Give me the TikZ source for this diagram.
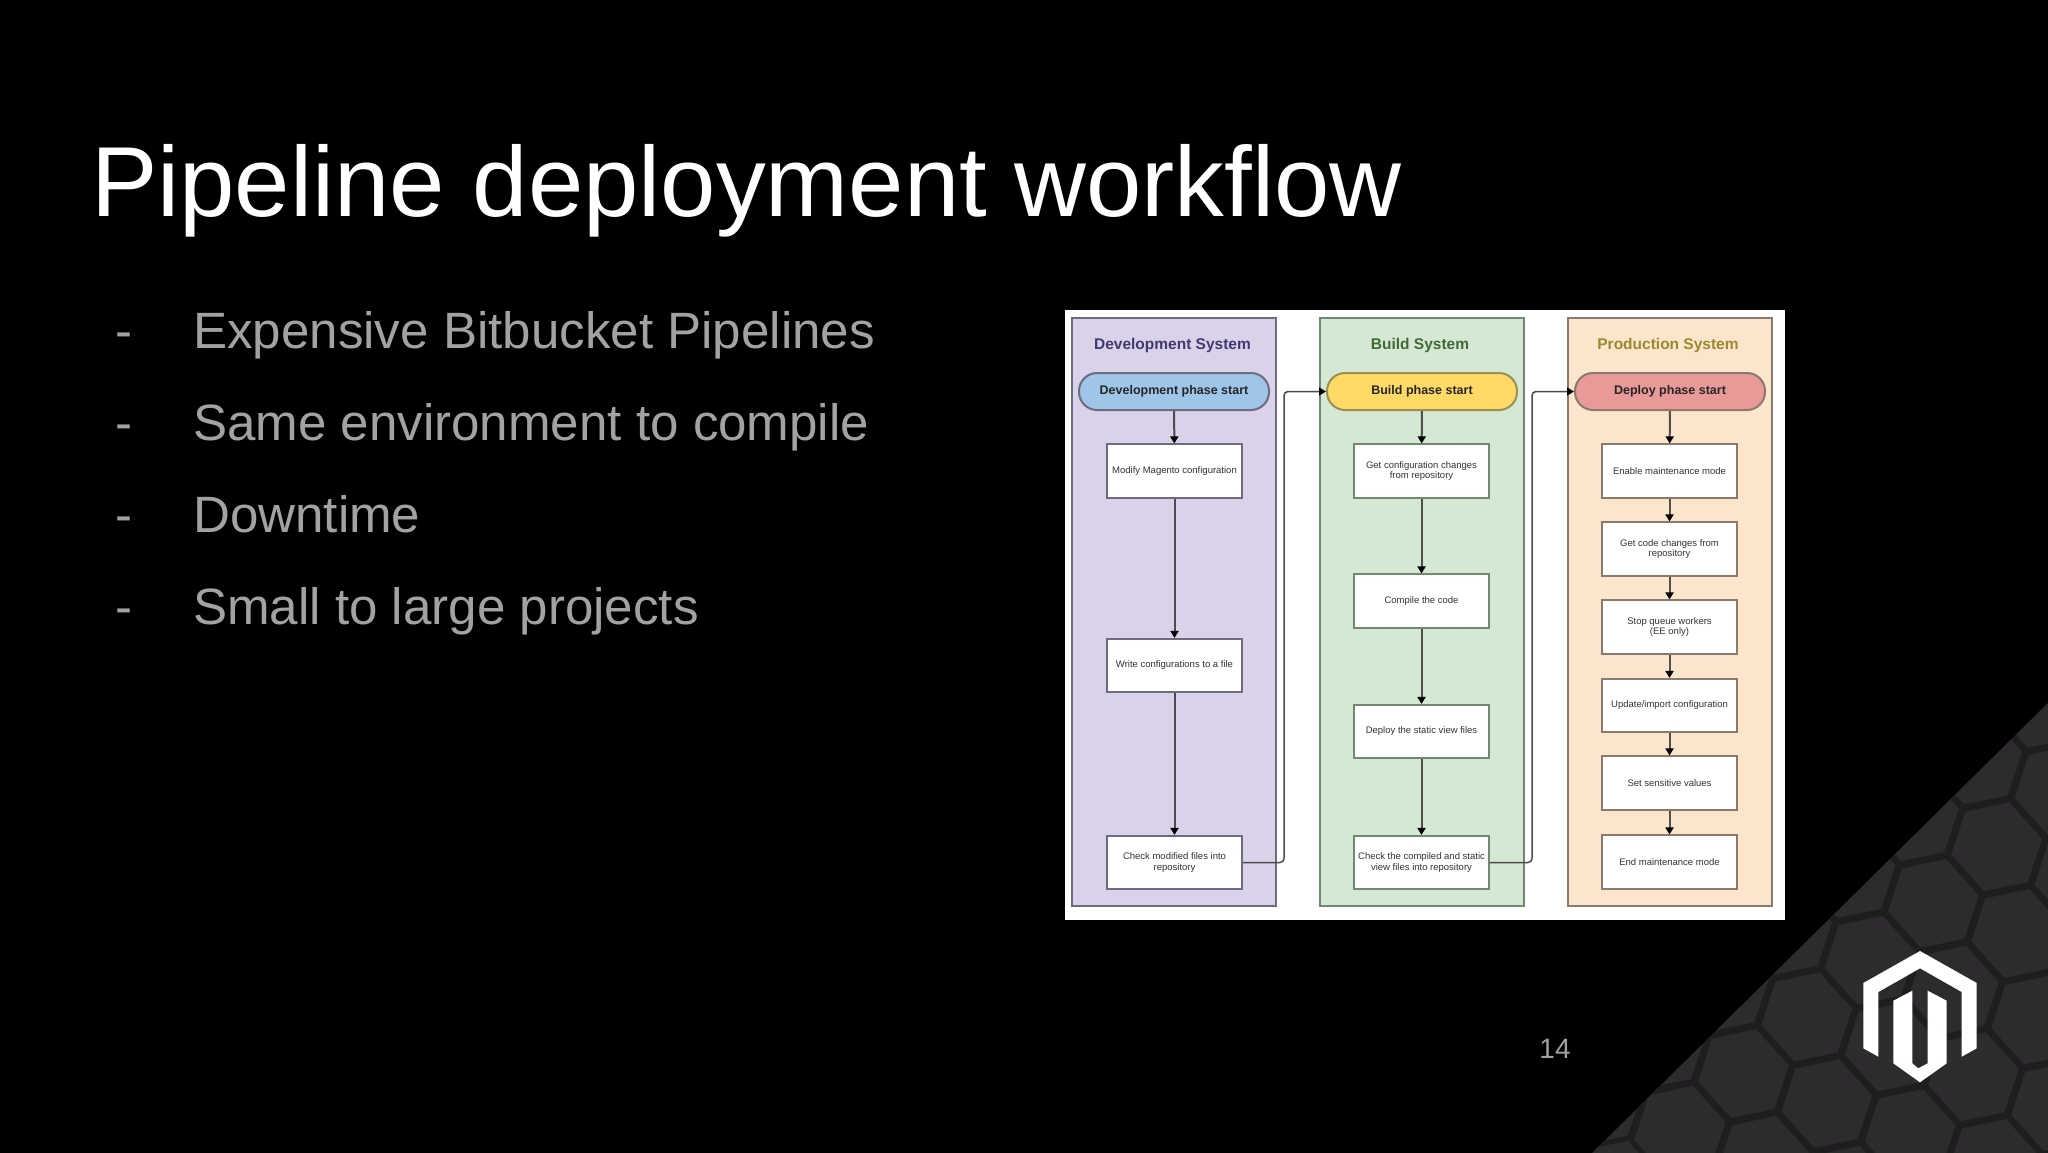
\documentclass[tikz,border=0pt]{standalone}
\usepackage{fontspec}
\setmainfont{Liberation Sans}
\usetikzlibrary{arrows.meta}
\definecolor{bgtri}{HTML}{2D2B2D}
\definecolor{hexline}{HTML}{1F1E1F}
\definecolor{bullet}{HTML}{A2A2A2}
\definecolor{lanedev}{HTML}{D9D2E9}
\definecolor{lanebuild}{HTML}{D5E8D4}
\definecolor{laneprod}{HTML}{FCE5CD}
\definecolor{edgedev}{HTML}{6E6A80}
\definecolor{edgebuild}{HTML}{6F8A6E}
\definecolor{edgeprod}{HTML}{8A7A6C}
\definecolor{edgepillb}{HTML}{9A8F55}
\definecolor{pilldev}{HTML}{9FC5E8}
\definecolor{pillbuild}{HTML}{FFD966}
\definecolor{pillprod}{HTML}{EA9999}
\definecolor{titledev}{HTML}{3F3A70}
\definecolor{titlebuild}{HTML}{3F6A35}
\definecolor{titleprod}{HTML}{9A8A2E}
\begin{document}
\begin{tikzpicture}[x=1pt,y=-1pt,
  titletext/.style={anchor=base west,inner sep=0,text=white,font=\fontsize{99.5}{110}\selectfont},
  bullettext/.style={anchor=base west,inner sep=0,text=bullet,font=\fontsize{51.1}{58}\selectfont},
  pagenum/.style={anchor=base,inner sep=0,text=bullet,font=\fontsize{28}{32}\selectfont},
  lane/.style={draw=#1,line width=2pt,minimum width=204pt,minimum height=588pt,inner sep=0},
  lanetitle/.style={inner sep=0,font=\fontsize{15.5}{18}\selectfont\bfseries,text=#1},
  pill/.style={draw=#1,line width=2pt,rounded corners=18pt,minimum width=190pt,minimum height=37pt,inner sep=0,text=black!85,font=\fontsize{12.5}{15}\selectfont\bfseries},
  stepbox/.style={draw=#1,fill=white,line width=1.6pt,minimum width=135pt,minimum height=53.5pt,inner sep=0,align=center,text=black!80,font=\fontsize{9.5}{10.2}\selectfont},
  flow/.style={draw=#1,line width=2pt,-{Triangle[length=7pt,width=8pt,color=black,fill=black]}},
  handoff/.style={draw=black!70,line width=1.5pt,rounded corners=4pt,-{Triangle[length=7pt,width=8pt,color=black,fill=black]}},
  hexcell/.style={draw=hexline,line width=5pt,line join=round},
  logoshape/.style={fill=white}]
\useasboundingbox (0,0) rectangle (2048,1152);
\fill[black] (-5,-5) rectangle (2053,1157);

% corner triangle with hexagons
\fill[bgtri] (2053,698) -- (2053,1157) -- (1588,1157) -- cycle;
\begin{scope}
\clip (2053,698) -- (2053,1157) -- (1588,1157) -- cycle;
\foreach \i in {-5,...,5}{
  \foreach \j in {-5,...,5}{
    \pgfmathsetmacro{\cx}{1996.7-63.3*\i+83.3*\j}
    \pgfmathsetmacro{\cy}{846.7+56.7*\i+30*\j}
    \draw[hexcell] ([shift={(\cx,\cy)}]49:50) -- ([shift={(\cx,\cy)}]108:50) -- ([shift={(\cx,\cy)}]168:50)
       -- ([shift={(\cx,\cy)}]228:50) -- ([shift={(\cx,\cy)}]288:50) -- ([shift={(\cx,\cy)}]348:50) -- cycle;
  }
}
\end{scope}

% logo
\fill[logoshape] (1920,951) -- (1976.7,983) -- (1976.7,1048.3) -- (1961.7,1056.7) -- (1961.7,992) -- (1920,968.3)
  -- (1878.3,992) -- (1878.3,1056.7) -- (1863.3,1048.3) -- (1863.3,983) -- cycle;
\fill[logoshape] (1893.3,1000.7) -- (1912.3,990.7) -- (1912.3,1063.3) -- (1918.3,1068.3) -- (1927.7,1063.3) -- (1927.7,990.7)
  -- (1946.7,1000.7) -- (1946.7,1063.3) -- (1920,1082.3) -- (1893.3,1063.3) -- cycle;

% slide text
\node[titletext] (title) at (91,216) {Pipeline deployment workflow};
\node[bullettext] (d1) at (115,348) {-};
\node[bullettext] (b1) at (193,348) {Expensive Bitbucket Pipelines};
\node[bullettext] (d2) at (115,440) {-};
\node[bullettext] (b2) at (193,440) {Same environment to compile};
\node[bullettext] (d3) at (115,532) {-};
\node[bullettext] (b3) at (193,532) {Downtime};
\node[bullettext] (d4) at (115,624) {-};
\node[bullettext] (b4) at (193,624) {Small to large projects};
\node[pagenum] (num) at (1555,1058) {14};

% embedded diagram
\fill[white] (1065,310) rectangle (1785,920);
\node[lane=edgedev,fill=lanedev] (ldev) at (1174,612) {};
\node[lane=edgebuild,fill=lanebuild] (lbuild) at (1422,612) {};
\node[lane=edgeprod,fill=laneprod] (lprod) at (1670,612) {};
\node[lanetitle=titledev] (tdev) at (1172.5,345.5) {Development System};
\node[lanetitle=titlebuild] (tbuild) at (1420,345.5) {Build System};
\node[lanetitle=titleprod] (tprod) at (1668,345.5) {Production System};

\node[pill=edgedev,fill=pilldev] (sdev) at (1174,391.5) {Development phase start};
\node[pill=edgepillb,fill=pillbuild] (sbuild) at (1422,391.5) {Build phase start};
\node[pill=edgeprod,fill=pillprod] (sprod) at (1670,391.5) {Deploy phase start};

\node[stepbox=edgedev] (da) at (1174.5,471) {Modify Magento configuration};
\node[stepbox=edgedev] (db) at (1174.5,665.5) {Write configurations to a file};
\node[stepbox=edgedev] (dc) at (1174.5,862.5) {Check modified files into\\repository};

\node[stepbox=edgebuild] (ba) at (1421.5,471) {Get configuration changes\\from repository};
\node[stepbox=edgebuild] (bb) at (1421.5,601) {Compile the code};
\node[stepbox=edgebuild] (bc) at (1421.5,731.5) {Deploy the static view files};
\node[stepbox=edgebuild] (bd) at (1421.5,862.5) {Check the compiled and static\\view files into repository};

\node[stepbox=edgeprod] (pa) at (1669.5,471) {Enable maintenance mode};
\node[stepbox=edgeprod] (pb) at (1669.5,549) {Get code changes from\\repository};
\node[stepbox=edgeprod] (pc) at (1669.5,627) {Stop queue workers\\(EE only)};
\node[stepbox=edgeprod] (pd) at (1669.5,705.5) {Update/import configuration};
\node[stepbox=edgeprod] (pe) at (1669.5,783) {Set sensitive values};
\node[stepbox=edgeprod] (pf) at (1669.5,862) {End maintenance mode};

\draw[flow=black!65!lanedev] (sdev) -- (da);
\draw[flow=black!65!lanedev] (da) -- (db);
\draw[flow=black!65!lanedev] (db) -- (dc);
\draw[flow=black!65!lanebuild] (sbuild) -- (ba);
\draw[flow=black!65!lanebuild] (ba) -- (bb);
\draw[flow=black!65!lanebuild] (bb) -- (bc);
\draw[flow=black!65!lanebuild] (bc) -- (bd);
\draw[flow=black!65!laneprod] (sprod) -- (pa);
\draw[flow=black!65!laneprod] (pa) -- (pb);
\draw[flow=black!65!laneprod] (pb) -- (pc);
\draw[flow=black!65!laneprod] (pc) -- (pd);
\draw[flow=black!65!laneprod] (pd) -- (pe);
\draw[flow=black!65!laneprod] (pe) -- (pf);

\coordinate (ha) at (1284,862.5);
\coordinate (hb) at (1284,391.5);
\coordinate (hc) at (1532,862.5);
\coordinate (hd) at (1532,391.5);
\draw[handoff] (dc.east) -- (ha) -- (hb) -- (sbuild.west);
\draw[handoff] (bd.east) -- (hc) -- (hd) -- (sprod.west);
\end{tikzpicture}
\end{document}
